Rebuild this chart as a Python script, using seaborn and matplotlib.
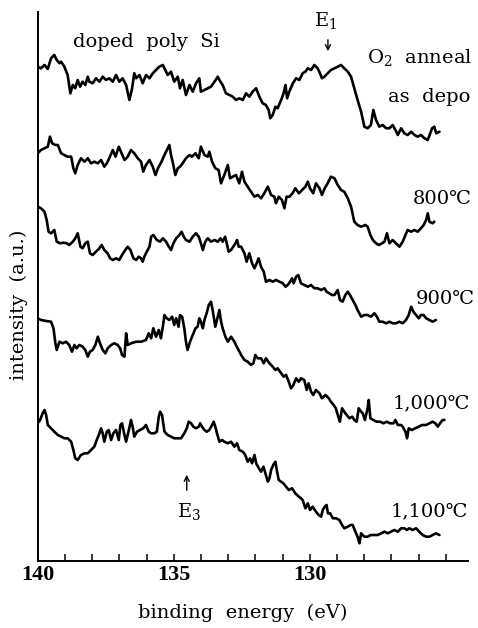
import matplotlib
matplotlib.use("Agg")
import matplotlib.pyplot as plt
import seaborn as sns
import pandas as pd

# ---------------- data (binding energy in eV, intensity in a.u.) ----------------
as_depo_E = [140.00,139.88,139.75,139.63,139.51,139.39,139.30,139.20,139.14,139.02,
             138.90,138.80,138.71,138.62,138.53,138.44,138.35,138.25,138.16,138.10,
             137.98,137.86,137.73,137.61,137.49,137.37,137.24,137.12,137.00,136.88,
             136.75,136.63,136.53,136.45,136.38,136.26,136.14,136.02,135.89,135.77,
             135.65,135.53,135.40,135.31,135.22,135.10,134.98,134.85,134.77,134.67,
             134.55,134.42,134.30,134.18,134.06,134.00,133.87,133.75,133.63,133.50,
             133.38,133.32,133.20,133.08,132.95,132.83,132.71,132.59,132.46,132.34,
             132.22,132.10,131.97,131.85,131.73,131.61,131.51,131.45,131.36,131.26,
             131.18,131.05,130.96,130.89,130.83,130.75,130.62,130.50,130.38,130.26,
             130.16,130.07,129.95,129.83,129.71,129.62,129.55,129.46,129.34,129.22,
             129.09,128.97,128.85,128.73,128.60,128.48,128.36,128.24,128.11,127.99,
             127.87,127.75,127.66,127.56,127.44,127.32,127.19,127.07,126.95,126.85,
             126.76,126.64,126.52,126.40,126.27,126.15,126.03,125.91,125.78,125.66,
             125.57,125.50,125.42,125.35,125.23]
as_depo_I = [494.3,492.7,496,492,502.7,506,501,497.7,499.3,494.3,
             486,467.7,476,472.7,481,474.3,479.3,476,484.3,479.3,
             477.7,482.7,479.3,484.3,481,482.7,479.3,486,479.3,482.7,
             476,461,472.7,487.7,482.7,486,477.7,486,482.7,487.7,
             491,494.3,496,491,486,489.3,479.3,484.3,472.7,481,
             466,476,469.3,477.7,482.7,469.3,471,472.7,474.3,479.3,
             484.3,481,476,467.7,466,464.3,461,462.7,461,467.7,
             464.3,469.3,472.7,464.3,457.7,456,451,442.7,446,454.3,
             452.7,461,467.7,476,462.7,469.3,477.7,482.7,481,487.7,
             489.3,492.7,491,496,492.7,487.7,482.7,484.3,487.7,491,
             492.7,494.3,496,492.7,489.3,484.3,472.7,461,449.3,434.3,
             432.7,436,451,441,434.3,436,432.7,432.7,436,431,
             426,432.7,427.7,426,429.3,426,424.3,426,422.7,421,
             427.7,432.7,434.3,427.7,429.3]

c800_E = [140.00,139.88,139.75,139.63,139.55,139.47,139.35,139.26,139.14,139.02,
          138.90,138.77,138.69,138.62,138.53,138.41,138.28,138.16,138.04,137.92,
          137.79,137.67,137.55,137.46,137.37,137.24,137.14,137.02,136.94,136.81,
          136.69,136.57,136.45,136.32,136.20,136.12,136.02,135.89,135.77,135.67,
          135.58,135.45,135.34,135.22,135.16,135.10,135.04,134.94,134.85,134.77,
          134.67,134.55,134.42,134.33,134.20,134.08,134.00,133.87,133.75,133.69,
          133.59,133.47,133.35,133.26,133.14,133.01,132.93,132.83,132.71,132.59,
          132.49,132.40,132.28,132.16,132.03,131.91,131.79,131.67,131.54,131.42,
          131.30,131.24,131.14,131.02,130.93,130.85,130.75,130.63,130.53,130.40,
          130.28,130.16,130.07,129.99,129.87,129.77,129.64,129.55,129.45,129.34,
          129.22,129.09,128.97,128.85,128.73,128.60,128.48,128.36,128.24,128.11,
          127.95,127.87,127.77,127.68,127.56,127.46,127.34,127.25,127.16,127.07,
          126.95,126.83,126.70,126.58,126.48,126.40,126.27,126.15,126.03,125.91,
          125.81,125.72,125.66,125.60,125.48,125.42]
c800_I = [407.7,411,412.7,414.3,424.3,417.7,416,416,407.7,406,
          404.3,404.3,392.7,387.7,396,402.7,399.3,402.7,397.7,399.3,
          397.7,401,394.3,397.7,402.7,411,404.3,414.3,409.3,401,
          404.3,411,407.7,402.7,399.3,389.3,396,401,394.3,386,
          392.7,399.3,406,412.7,416,406,399.3,386,392.7,394.3,
          397.7,402.7,406,404.3,407.7,402.7,414.3,406,404.3,409.3,
          399.3,392.7,391,377.7,386,396,382.7,384.3,386,377.7,
          389.3,379.3,374.3,369.3,364.3,366,362.7,367.7,374.3,366,
          364.3,357.7,364.3,361,352.7,364.3,364.3,367.7,372.7,367.7,
          371,374.3,379.3,372.7,367.7,377.7,372.7,366,372.7,377.7,
          384.3,382.7,376,371,369.3,362.7,354.3,339.3,336,334.3,
          336,334.3,326,321,317.7,316,317.7,319.3,327.7,317.7,
          321,317.7,314.3,319.3,326,331,329.3,331,329.3,332.7,
          336,341,347.7,339.3,337.7,339.3]

c900_E = [140.00,139.88,139.75,139.67,139.60,139.51,139.39,139.30,139.18,139.06,
          138.93,138.84,138.71,138.62,138.53,138.43,138.35,138.25,138.16,138.08,
          137.98,137.86,137.73,137.65,137.55,137.43,137.34,137.24,137.12,137.00,
          136.90,136.78,136.69,136.59,136.48,136.38,136.29,136.20,136.14,136.08,
          135.99,135.89,135.83,135.75,135.62,135.50,135.40,135.28,135.18,135.10,
          135.01,134.91,134.79,134.71,134.63,134.55,134.42,134.30,134.18,134.08,
          134.00,133.93,133.84,133.75,133.63,133.50,133.38,133.28,133.20,133.11,
          133.05,132.98,132.89,132.81,132.73,132.67,132.61,132.52,132.40,132.32,
          132.22,132.12,132.03,131.95,131.88,131.79,131.69,131.61,131.48,131.36,
          131.24,131.11,130.99,130.89,130.81,130.72,130.65,130.59,130.50,130.42,
          130.32,130.20,130.07,129.95,129.83,129.71,129.58,129.46,129.38,129.28,
          129.18,129.09,128.97,128.89,128.79,128.69,128.60,128.52,128.42,128.32,
          128.24,128.11,127.99,127.87,127.75,127.62,127.53,127.44,127.32,127.19,
          127.07,126.95,126.83,126.70,126.58,126.46,126.36,126.27,126.19,126.09,
          125.99,125.91,125.81,125.72,125.60,125.48,125.36]
c900_I = [354.3,352.7,349.3,341,329.3,327.7,331,319.3,317.7,318.3,
          317.7,316,319.3,322.7,327.7,314.3,312.7,317.7,319.3,307.7,
          306,309.3,312.7,316,311,307.7,302.7,301,302.7,301,
          306,311,314.3,311,302.7,301,304.3,302.7,299.3,304.3,
          309.3,314.3,324.3,326,321,319.3,322.7,319.3,314.3,311,
          317.7,322.7,326,329.3,324.3,321,319.3,324.3,327.7,324.3,
          317.7,311,319.3,322.7,319.3,321,319.3,322.7,319.3,324.3,
          317.7,309.3,311,314.3,317.7,321,314.3,314.3,307.7,299.3,
          307.7,297.7,292.7,297.7,302.7,294.3,289.3,279.3,281,279.3,
          281,279.3,277.7,274.3,276,279.3,282.7,277.7,284.3,286,
          277.7,276,274.3,276,272.7,272.7,271,272.7,269.3,267.7,
          266,266,271,261,259.3,266,269.3,266,261,256,
          251,244.3,246,246,244.3,247.7,244.3,239.3,239.3,237.7,
          239.3,237.7,237.7,239.3,237.7,241,246,254.3,249.3,246,
          242.7,246,246,242.7,241,239.3,241]

c1000_E = [140.00,139.88,139.69,139.51,139.42,139.35,139.30,139.20,139.08,138.96,
           138.84,138.74,138.65,138.57,138.47,138.35,138.25,138.16,138.08,137.98,
           137.88,137.79,137.71,137.61,137.51,137.43,137.30,137.18,137.06,136.97,
           136.90,136.81,136.75,136.69,136.57,136.38,136.20,136.02,135.92,135.83,
           135.75,135.65,135.55,135.47,135.40,135.34,135.26,135.16,135.06,134.98,
           134.91,134.82,134.77,134.69,134.61,134.55,134.49,134.40,134.30,134.20,
           134.12,134.06,134.00,133.93,133.87,133.79,133.71,133.63,133.57,133.47,
           133.38,133.32,133.26,133.20,133.10,133.01,132.89,132.77,132.65,132.52,
           132.40,132.28,132.16,132.07,132.00,131.91,131.79,131.69,131.61,131.48,
           131.36,131.26,131.18,131.05,130.96,130.87,130.77,130.69,130.60,130.50,
           130.40,130.32,130.20,130.11,130.04,129.95,129.87,129.77,129.64,129.55,
           129.42,129.30,129.22,129.12,129.04,128.95,128.89,128.81,128.73,128.64,
           128.54,128.44,128.36,128.27,128.20,128.11,128.05,127.97,127.87,127.83,
           127.77,127.66,127.54,127.41,127.29,127.17,127.05,126.92,126.85,126.76,
           126.64,126.58,126.48,126.42,126.36,126.24,126.12,125.99,125.87,125.72,
           125.60,125.48,125.38,125.29,125.21,125.11,125.05]
c1000_I = [242.7,241,240,239.3,232.7,217.7,211,219.3,217.7,219.3,
           216,209.3,216,212.7,216,214.3,211,204.3,209.3,211,
           216,224.3,217.7,211,207.7,212.7,216,217.7,216,212.7,
           206,204.3,227.7,216,217.7,219.3,219.3,221,227.7,222.7,
           232.7,224.3,231,222.7,234.3,246,242.7,241,244.3,236,
           242.7,234.3,246,244.3,232.7,219.3,211,219.3,226,232.7,
           234.3,242.7,239.3,232.7,241,247.7,256,259.3,251,234.3,
           244.3,251,239.3,232.7,224.3,219.3,224.3,219.3,212.7,206,
           201,199.3,196,197.7,206,202.7,202.7,197.7,202.7,197.7,
           194.3,191,192.7,187.7,184.3,186,179.3,172.7,176,182.7,
           179.3,182.7,181,171,177.7,169.3,166,171,167.7,162.7,
           166,162.7,159.3,156,152.7,144.3,139.3,152.7,149.3,146,
           142.7,144.3,141,139.3,152.7,149.3,147.7,141,152.7,161,
           142.7,141,139.3,139.3,137.7,139.3,137.7,137.7,141,136,
           136,134.3,129.3,122.7,132.7,131,132.7,134.3,136,136,
           137.7,139.3,137.7,134.3,137.7,141,141]

c1100_E = [140.00,139.91,139.82,139.75,139.69,139.63,139.51,139.39,139.26,139.14,
           139.02,138.90,138.77,138.69,138.62,138.53,138.41,138.28,138.16,138.04,
           137.92,137.83,137.73,137.67,137.61,137.55,137.46,137.39,137.30,137.22,
           137.12,137.02,136.96,136.90,136.81,136.75,136.65,136.57,136.51,136.45,
           136.35,136.24,136.12,136.02,135.92,135.83,135.71,135.62,135.55,135.50,
           135.43,135.34,135.22,135.10,134.98,134.85,134.73,134.61,134.52,134.45,
           134.36,134.28,134.18,134.08,134.03,133.96,133.87,133.79,133.69,133.59,
           133.53,133.47,133.41,133.32,133.22,133.14,133.01,132.89,132.77,132.67,
           132.59,132.46,132.37,132.28,132.19,132.12,132.03,131.97,131.87,131.79,
           131.70,131.61,131.54,131.48,131.42,131.34,131.26,131.21,131.14,131.05,
           130.97,130.87,130.77,130.65,130.53,130.40,130.32,130.26,130.16,130.07,
           129.99,129.89,129.77,129.67,129.58,129.52,129.45,129.38,129.33,129.25,
           129.15,129.03,128.91,128.81,128.73,128.60,128.50,128.42,128.32,128.24,
           128.17,128.11,127.99,127.87,127.75,127.62,127.50,127.37,127.25,127.13,
           127.01,126.89,126.76,126.64,126.52,126.43,126.34,126.21,126.09,125.97,
           125.85,125.72,125.60,125.48,125.36,125.23]
c1100_I = [137.7,141,147.7,151,146,136,132.7,129.3,126,124.3,
           122.7,122.7,119.3,111,102.7,101,106,107.7,107.7,111,
           114.3,121,127.7,132.7,127.7,119.3,129.3,131,121,127.7,
           131,121,136,137.7,126,119.3,131,141,134.3,124.3,
           129.3,131,132.7,136,129.3,127.7,127.7,129.3,144.3,149.3,
           146,129.3,126,124.3,122.7,122.7,122.7,127.7,132.7,139.3,
           137.7,134.3,132.7,134.3,137.7,134.3,131,129.3,131,136,
           139.3,134.3,127.7,119.3,121,119.3,117.7,119.3,114.3,117.7,
           111,109.3,106,99.3,102.7,97.7,106,97.7,92.7,89.3,
           94.3,86,79.3,82.7,91,96,99.3,91,81,79.3,
           77.7,74.3,71,72.7,67.7,64.3,62.7,61,52.7,57.7,
           51,54.3,49.3,46,44.3,51,54.3,56,47.7,47.7,
           42.7,42.7,41,36,32.7,34.3,36,36,29.3,24.3,
           17.7,27.7,24.3,24.3,26,26,26,27.7,29.3,27.7,
           29.3,31,29.3,32.7,32.7,31,32.7,31,32.7,29.3,
           26,24.3,24.3,26,27.7,26]

series_names = ["as depo", "800℃", "900℃", "1,000℃", "1,100℃"]
series_E = [as_depo_E, c800_E, c900_E, c1000_E, c1100_E]
series_I = [as_depo_I, c800_I, c900_I, c1000_I, c1100_I]

major_ticks = [140, 135, 130]
major_labels = ["140", "135", "130"]
minor_ticks = [139, 138, 137, 136, 134, 133, 132, 131, 129, 128, 127, 126, 125]

# ---------------- build long-form table ----------------
frames = []
for name, e, i in zip(series_names, series_E, series_I):
    n = min(len(e), len(i))
    frames.append(pd.DataFrame({"energy": e[:n], "intensity": i[:n], "series": name}))
df = pd.concat(frames, ignore_index=True)

# ---------------- style ----------------
sns.set_theme(style="ticks")
plt.rcParams["font.family"] = ["DejaVu Serif", "Noto Sans CJK JP"]
plt.rcParams["mathtext.fontset"] = "dejavuserif"

fig = plt.figure(figsize=(4.78, 6.28), dpi=100)
ax = fig.add_axes([0.0789, 0.1067, 0.9002, 0.8742])

sns.lineplot(data=df, x="energy", y="intensity", units="series", estimator=None,
             color="black", linewidth=1.9, sort=False, ax=ax, legend=False)

ax.set_xlim(140, 124.18)
ax.set_ylim(0, 549)

ax.set_xticks(major_ticks)
ax.set_xticklabels(major_labels, fontfamily="Liberation Serif", fontsize=16, fontweight="bold")
ax.set_xticks(minor_ticks, minor=True)
ax.tick_params(axis="x", which="both", direction="in", length=5, width=1.1, pad=3, colors="black")
ax.set_yticks([])

for s in ["top", "right"]:
    ax.spines[s].set_visible(False)
for s in ["left", "bottom"]:
    ax.spines[s].set_linewidth(1.4)
    ax.spines[s].set_color("black")

ax.set_xlabel("binding  energy  (eV)", fontsize=14, color="black")
ax.xaxis.set_label_coords(0.477, -0.078)
ax.set_ylabel("intensity  (a.u.)", fontsize=14, color="black")
ax.yaxis.set_label_coords(-0.0225, 0.466)

txt = dict(color="black", fontsize=14, clip_on=False)
ax.text(136.0, 518.5, "doped  poly  Si", ha="center", va="center", **txt)
ax.text(129.40, 540, r"E$_1$", ha="center", va="center", **txt)
ax.text(124.03, 503, r"O$_2$  anneal", ha="right", va="center", **txt)
ax.text(124.11, 464, "as  depo", ha="right", va="center", **txt)
ax.text(124.03, 361.5, "800℃", ha="right", va="center", **txt)
ax.text(123.92, 261.5, "900℃", ha="right", va="center", **txt)
ax.text(124.11, 157.5, "1,000℃", ha="right", va="center", **txt)
ax.text(124.18, 50, "1,100℃", ha="right", va="center", **txt)
ax.text(134.42, 49, r"E$_3$", ha="center", va="center", **txt)

arrow = dict(arrowstyle="->", color="black", lw=1.0, mutation_scale=9)
ax.annotate("", xy=(129.33, 507), xytext=(129.33, 524), arrowprops=arrow)
ax.annotate("", xy=(134.52, 89), xytext=(134.52, 68), arrowprops=arrow)

fig.savefig("out.png", dpi=100)
